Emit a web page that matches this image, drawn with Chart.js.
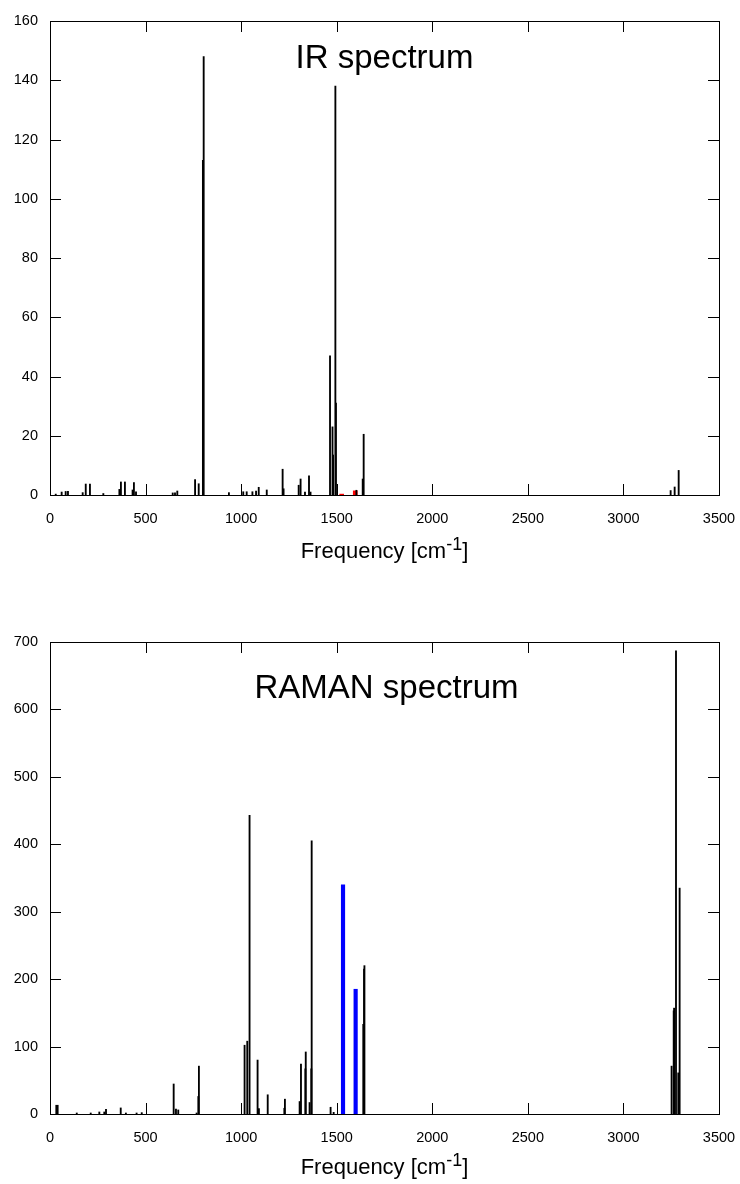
<!DOCTYPE html>
<html>
<head>
<meta charset="utf-8">
<script src="https://cdn.jsdelivr.net/npm/chart.js@4"></script>
<style>
  body { margin: 0; background: #fff; }
  #wrap { position: relative; width: 740px; height: 1184px; font-family: "Liberation Sans", Arial, sans-serif; color: #000; }
  canvas { position: absolute; left: 0; }
  .lbl { position: absolute; left: 50px; width: 669px; text-align: center; white-space: nowrap; }
  .big { font-size: 33px; line-height: 33px; }
  .axt { font-size: 22px; line-height: 22px; }
  .axt span { font-size: 18px; position: relative; top: -8px; }
</style>
</head>
<body>
<div id="wrap">
  <canvas id="ir" width="740" height="592" style="top:0"></canvas>
  <canvas id="raman" width="740" height="592" style="top:592px"></canvas>
  <div class="lbl big" style="top:40px">IR spectrum</div>
  <div class="lbl axt" style="top:540px">Frequency [cm<span>-1</span>]</div>
  <div class="lbl big" style="top:670px; left:52px">RAMAN spectrum</div>
  <div class="lbl axt" style="top:1156px">Frequency [cm<span>-1</span>]</div>
</div>
<script>
// IR sticks (cm-1, intensity)
const irFreq = [30, 61, 82, 94, 171, 187, 209, 279, 363, 371, 392, 432, 439, 450,
  642, 654, 666, 759, 778, 800, 804, 936, 1011, 1029, 1059, 1078, 1092, 1134,
  1217, 1222, 1301, 1311, 1334, 1355, 1363, 1465, 1478, 1481, 1493, 1496,
  1603, 1636, 1641, 3247, 3268, 3289];
const irInt = [0.3, 1.0, 1.2, 1.2, 0.8, 3.7, 3.7, 0.5, 1.9, 4.4, 4.4, 1.7, 4.2, 1.1,
  0.7, 0.7, 1.35, 5.2, 3.8, 113, 148, 0.8, 1.1, 1.1, 1.1, 1.35, 2.6, 1.7,
  8.7, 2.1, 3.3, 5.4, 1.0, 6.5, 1.0, 47, 23, 13.5, 138, 31,
  1.6, 5.4, 20.5, 1.5, 2.7, 8.3];
const irRedFreq = [1526, 1597];
const irRedInt = [0.3, 1.4];

// RAMAN sticks
const ramanFreq = [33, 40, 140, 213, 258, 284, 293, 370, 397, 453, 480,
  647, 659, 671, 767, 776, 779, 1018, 1032, 1044, 1086, 1093, 1139,
  1226, 1229, 1306, 1313, 1336, 1338, 1358, 1367, 1369, 1468, 1484,
  1639, 1643, 1645, 3252, 3263, 3265, 3275, 3287, 3294];
const ramanInt = [13, 13, 1.5, 1.5, 3, 3, 7, 9, 1.5, 1.5, 2,
  44.5, 7.4, 6, 1.5, 26, 71, 102, 108, 443, 80, 8, 28.5,
  8.5, 22, 18.5, 74, 67, 92, 17, 67, 405, 10, 2.5,
  133, 215, 220, 71, 153, 157, 687, 61, 335];
const ramanBlueFreq = [1533, 1599];
const ramanBlueInt = [340, 185];

const xMax = 3500, xStep = 500;

Chart.defaults.font.family = '"Liberation Sans", Arial, sans-serif';
Chart.defaults.font.size = 14.5;
Chart.defaults.color = '#000';

const pts = (f, v) => f.map((x, i) => ({ x: x, y: v[i] }));

const frame = {
  id: 'frame',
  afterDatasetsDraw(chart) {
    const { ctx, chartArea: a, scales: { x, y } } = chart;
    ctx.save();
    ctx.strokeStyle = '#000';
    ctx.lineWidth = 1;
    ctx.beginPath();
    x.ticks.forEach(t => {
      const px = Math.round(x.getPixelForValue(t.value)) + 0.5;
      ctx.moveTo(px, a.bottom); ctx.lineTo(px, a.bottom - 11);
      ctx.moveTo(px, a.top); ctx.lineTo(px, a.top + 11);
    });
    y.ticks.forEach(t => {
      const py = Math.round(y.getPixelForValue(t.value)) + 0.5;
      ctx.moveTo(a.left, py); ctx.lineTo(a.left + 11, py);
      ctx.moveTo(a.right, py); ctx.lineTo(a.right - 11, py);
    });
    ctx.stroke();
    ctx.strokeRect(Math.round(a.left) + 0.5, Math.round(a.top) + 0.5,
      Math.round(a.right - a.left), Math.round(a.bottom - a.top));
    ctx.restore();
  }
};

function spectrum(id, black, colored, color, colWidth, yMax, yStep, padTop, xHeight) {
  new Chart(document.getElementById(id), {
    type: 'bar',
    data: {
      datasets: [
        { data: black, backgroundColor: '#000', barThickness: 1.2, grouped: false },
        { data: colored, backgroundColor: color, barThickness: colWidth, grouped: false }
      ]
    },
    options: {
      responsive: false,
      animation: false,
      layout: { padding: { top: padTop, right: 21, left: 0, bottom: 0 } },
      plugins: { legend: { display: false }, tooltip: { enabled: false } },
      scales: {
        x: {
          type: 'linear', min: 0, max: xMax, offset: false,
          grid: { display: false, drawTicks: false },
          border: { display: false },
          ticks: { stepSize: xStep, padding: 15, maxRotation: 0, callback: v => String(v) },
          afterFit: s => { s.height = xHeight; s.paddingLeft = 0; s.paddingRight = 0; }
        },
        y: {
          min: 0, max: yMax,
          grid: { display: false, drawTicks: false },
          border: { display: false },
          ticks: { stepSize: yStep, padding: 12, callback: v => String(v) },
          afterFit: s => { s.width = 50; s.paddingTop = 0; s.paddingBottom = 0; }
        }
      }
    },
    plugins: [frame]
  });
}

spectrum('ir', pts(irFreq, irInt), pts(irRedFreq, irRedInt), '#ff0000', 4, 160, 20, 21, 97);
spectrum('raman', pts(ramanFreq, ramanInt), pts(ramanBlueFreq, ramanBlueInt), '#0000ff', 3.5, 700, 100, 50, 70);
</script>
</body>
</html>
